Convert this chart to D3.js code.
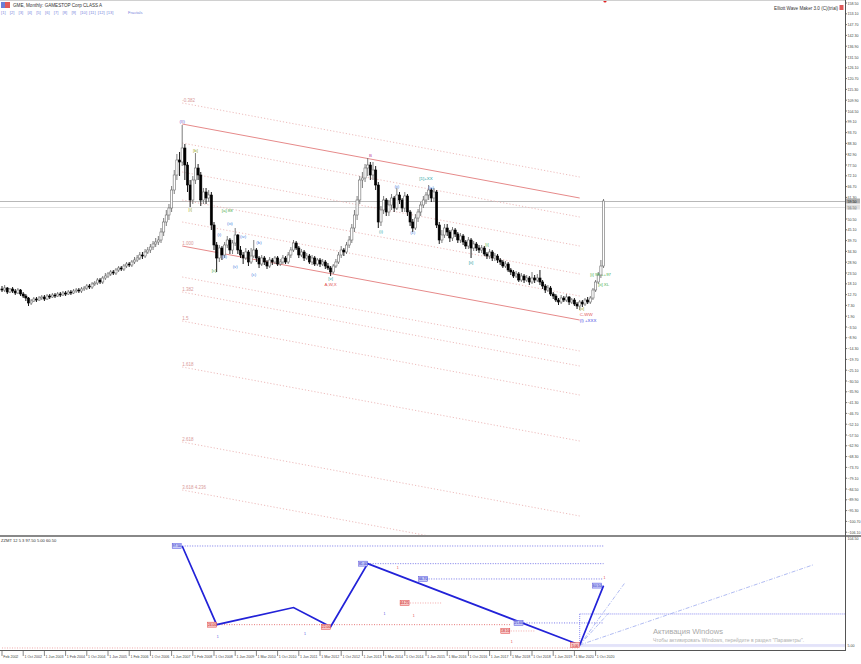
<!DOCTYPE html>
<html><head><meta charset="utf-8">
<script src="https://cdn.jsdelivr.net/npm/d3@7"></script>
<style>html,body{margin:0;padding:0;background:#fff;overflow:hidden}svg{display:block;font-family:"Liberation Sans",Arial,sans-serif}</style>
</head><body><svg id="c" width="861" height="664"></svg>
<script>
// ---------------- DATA ----------------
const firstOpen = 15.5;
const closes = [
15,16,14,15.5,14.5,13.5,15,13,12,11,
8.5,9.5,10.5,10,11,11.5,10.5,12,11.5,12.5,
12,13,12.5,13.5,13,14,13.5,14.5,15,14.5,
15.5,16,17,16.5,18,18.5,20,19,21,22,
23,24,23.5,25,26,25.5,27,28,27.5,29,
30,31,32.5,32,34,35,36.5,38,39,40,
44,49,52.5,56,65,72.5,80,79,86,77.5,
67.5,60,70,76,72.5,60,64,61,62.5,47.5,
37.5,31,36,32.5,37.5,40,35,38.5,42.5,35,
32.5,31,34,29,32,35,31,28,31,29,
27,30,29,31,28,29,31,29,32.5,35,
38.5,36,32.5,34,31,32,29,31,28,30,
28,29,27,26,24,27,29,32.5,35,34,
37.5,40,46,52.5,60,70,71,76,77.5,72.5,
75,67.5,49,55,60,54,57.5,61,56,62.5,
60,56,62,54,49,46,51,54,57.5,60,
62.5,65,61,64,47.5,40,42.5,46,44,41,
45,43,40,42,39,37,40,36,38,36,
35,36,33,32,34,31,32,30,29,27,
28,25,24,22,23,20,22,20,21,19,
21,20,21,19,17,15,16,13,12,10,
9,11,10,11.5,9,10,8,7,9,8,
10,9,11,15,19,22.5,27,59.5];
const highs = [
17,17.5,16.5,16,16.5,15.5,16,15.5,14,13,
11.5,10.5,11.5,11.5,12,12.5,12.5,13,13,13.5,
13.5,14,14,14.5,14.5,15,15,15.5,16,16,
16.5,17,18,18,19,19.5,21,21,22,23.5,
24,25,25,26,27,27,28,29,29,30,
31.5,32.5,34,34,35.5,36.5,38,39.5,41,42,
46,51,55,58,67,75,83,84,97.5,88,
79,70,72,83.5,78,74,66,66,65,64,
49,39,37.5,37,39,42,41,40,46,43,
37,34,36,35,36,40,36,32,32.5,32,
30,31.5,31,32,32,30.5,32.5,32,34,36.5,
40,39.5,37,35.5,35,33.5,33,32.5,32,31,
31,30.5,30,28.5,27,28,30.5,34,37,36,
39,42,48,55,62,72,74,78,81,79,
79,77,69,57,62,61,60,63,62,66,
64,61,64,63,55,50.5,53,55.5,59,62,
64,67.5,66,66,65,49,45,48,48,45,
46.5,46,44,43.5,43,40,41.5,41,39.5,39,
37.5,37.5,37,34,35.5,35,33.5,33,31,30,
29.5,29,26,25,24.5,24,23.5,23,22.5,22,
24,22.5,23,25,20,18,17.5,17,14,13,
11,12.5,12,13,12,11,11,9,10,10,
11,11.5,12,16,20,24,30,60.5];
const lows = [
14,14,13,13.5,13.5,12.5,13,12,11,9.5,
7,7.5,9,9,9.5,10,9.5,10,10.5,11,
11,11.5,11.5,12,12,12.5,12.5,13,13.5,13.5,
13.5,14.5,15,15.5,15.5,17,17.5,18,18,20,
21,22,22.5,22.5,24,24.5,24.5,26,26.5,26.5,
28,29,30,30.5,31,33,33.5,35,36.5,37.5,
38.5,42,47,50,54,63,70,72,77,70,
64,56.5,58,68,70,57,58,58,59,45,
35,24,29,30,31,36,33,33,37,33,
31,28,30,27,28,31,29,26,27,27.5,
25.5,26,27.5,28,27,27,28,28,28,31,
34,35,31,31.5,29.5,30,28,27.5,27,27,
26.5,27,25.5,25,22,23,26,28,31,32,
33,36,38.5,44,50,58,66,69,72,70,
70,65,46,47,53,52,52,55,54,55,
58,54,54,52,47,44,45,49,52,56,
58,60,59,59,46,38,38.5,41,42,39,
39.5,41.5,38.5,38.5,37.5,35.5,35.5,31,34.5,34.5,
33.5,33.5,32,30.5,30.5,29.5,29.5,28.5,27.5,26,
26,24,22.5,21,21,19,19,18.5,19,17.5,
18,18.5,19,17.5,15.5,13.5,14,12,10.5,9,
7.5,8,9,9,7.5,8,7,5.5,5,6.5,
7,8,8,10,14,18,21,26];

const timeLabels = ["Feb 2002","1 Oct 2002","1 Jun 2003","1 Feb 2004","1 Oct 2004","1 Jun 2005","1 Feb 2006","1 Oct 2006","1 Jun 2007","1 Feb 2008","1 Oct 2008","1 Jun 2009","1 Mar 2010","1 Oct 2010","1 Jun 2011","1 Mar 2012","1 Oct 2012","1 Jun 2013","1 Mar 2014","1 Oct 2014","1 Jun 2015","1 Mar 2016","1 Oct 2016","1 Jun 2017","1 Mar 2018","1 Oct 2018","1 Jun 2019","1 Mar 2020","1 Oct 2020"];
const timeLabelIdx = [0,8,16,24,32,40,48,56,64,72,80,88,96,104,112,120,128,136,144,152,160,168,176,184,192,200,208,216,224];

const priceTicks = [158.5,153.1,147.7,142.3,136.9,131.5,126.1,120.7,115.3,109.9,104.5,99.1,93.7,88.3,82.9,77.5,72.1,66.7,61.3,55.9,50.5,45.1,39.7,34.3,28.9,23.5,18.1,12.7,7.3,1.9,-3.5,-8.9,-14.3,-19.7,-25.1,-30.5,-35.9,-41.3,-46.7,-52.1,-57.5,-62.9,-68.3,-73.7,-79.1,-84.5,-89.9,-95.3,-100.7,-106.1];
const bidPrice = 59.5, askPrice = 56.5;

// pitchfork / channel levels (price at start bar; all lines parallel)
const pfStartIdx = 68, pfEndIdx = 218, pfDrop = 37;
const pfLevels = [108.5, 98, 88.5, 74, 60, 49, 37, 21.5, 14, -0.5, -23.5, -61, -85];
const pfSolid  = [false, true, false, false, false, false, true, false, false, false, false, false, false];
const pfLabels = ["-0.382","","","","","","1.000","","1.382","1.5","1.618","2.618","3.618 4.236"];

// Elliott wave labels: bar index, price, text, colour
const waveIdx   = [68, 73, 71, 85, 86, 82, 84, 91, 88, 97, 95, 80, 124, 124, 139, 143, 149, 155, 160, 162, 183, 177, 218, 218, 218, 222, 225];
const wavePrice = [98.5, 84, 54.5, 54, 47.5, 42, 31, 41, 26, 38, 22, 24, 20, 17, 81.5, 43.5, 66, 43, 70, 65.5, 37, 28, 5, 2, -1, 22, 17];
const waveText  = ["(II)","[b]","[i]","[a] 88","(iii)","(i)","(ii)","(iv)","(v)","(b)","(c)","[c]","[v]","A,W,X","B","(i)","(ii)","(c)","[1]+XX","(a)","[i]","[ii]","[v]","C-WW","(I) +XXX","[i] 99 ++97","[ii] XL"];
const waveCol   = ["#6a5acd","#9aa72a","#9aa72a","#4cae4c","#4a7fe0","#4a7fe0","#4a7fe0","#4a7fe0","#4a7fe0","#4a7fe0","#4a7fe0","#4cae4c","#20a0a0","#e05050","#c040a0","#20a0a0","#4a7fe0","#4a7fe0","#20a0a0","#4a7fe0","#4cae4c","#20a0a0","#9aa72a","#e05050","#4040e0","#4cae4c","#4cae4c"];

// sub-window zigzag
const zzIdx = [68, 81, 110, 124, 138, 218, 227];
const zzVal = [97.5, 24, 40, 22, 81, 5, 60.5];
const zzBoxText = ["97.50","24.00","","22.00","81.00","5.00","60.50"];
const subBlueLvl = [97.5, 81, 66.7, 25.6];
const subBlueFrom = [68, 138, 161, 197];
const subRedLvl = [24, 44.25, 18.1, 2.2];
const subRedFrom = [80, 154, 192, 0];
const subRedTo = [192, 166, 201, 218];
const subTicks = [104.5, 5.0];

// ---------------- DRAW ----------------
const svg = d3.select("#c");
const X = d3.scaleLinear().domain([0, 227]).range([2, 603.55]);
const Y = d3.scaleLinear().domain([-108, 160]).range([536, 0]);
const YS = d3.scaleLinear().domain([0.33, 105.9]).range([650, 537]);
const AX = 845;

svg.append("rect").attr("width",861).attr("height",664).attr("fill","#fff");
const defs = svg.append("defs");
defs.append("clipPath").attr("id","mainClip").append("rect").attr("x",0).attr("y",0).attr("width",AX).attr("height",535);
defs.append("clipPath").attr("id","subClip").append("rect").attr("x",0).attr("y",537).attr("width",AX).attr("height",113);

const main = svg.append("g").attr("clip-path","url(#mainClip)");

// price lines
main.append("line").attr("x1",0).attr("x2",AX).attr("y1",Y(bidPrice)+0.5).attr("y2",Y(bidPrice)+0.5).attr("stroke","#b8b8b8").attr("stroke-width",1);
main.append("line").attr("x1",0).attr("x2",AX).attr("y1",Y(askPrice)+0.5).attr("y2",Y(askPrice)+0.5).attr("stroke","#dedede").attr("stroke-width",1);

// pitchfork
pfLevels.forEach((lv,k)=>{
  const l = main.append("line")
    .attr("x1",X(pfStartIdx)).attr("y1",Y(lv))
    .attr("x2",X(pfEndIdx)).attr("y2",Y(lv-pfDrop))
    .attr("stroke", pfSolid[k] ? "#e68a8a" : "#ebb4b4")
    .attr("stroke-width", pfSolid[k] ? 1 : 0.9);
  if(!pfSolid[k]) l.attr("stroke-dasharray","1.2,2");
  if(pfLabels[k]) main.append("text").attr("x",X(pfStartIdx)).attr("y",Y(lv)-1.5)
    .attr("font-size",4.5).attr("fill","#d89a9a").text(pfLabels[k]);
});

// candles
const bars = closes.map((c,i)=>{
  const o = i===0 ? firstOpen : closes[i-1];
  return {i, o, c, h: Math.max(highs[i], o, c), l: Math.min(lows[i], o, c)};
});
const cg = main.append("g");
cg.selectAll("line.w").data(bars).join("line")
  .attr("x1",d=>X(d.i)).attr("x2",d=>X(d.i))
  .attr("y1",d=>Y(d.h)).attr("y2",d=>Y(d.l))
  .attr("stroke",d=>d.c>=d.o?"#6e6e6e":"#000").attr("stroke-width",0.9);
cg.selectAll("rect.b").data(bars).join("rect")
  .attr("x",d=>X(d.i)-1.1).attr("width",2.2)
  .attr("y",d=>Y(Math.max(d.o,d.c)))
  .attr("height",d=>Math.max(1, Math.abs(Y(d.o)-Y(d.c))))
  .attr("fill",d=>d.c>=d.o?"#fff":"#000")
  .attr("stroke",d=>d.c>=d.o?"#6e6e6e":"#000").attr("stroke-width",0.6);

// wave labels
waveText.forEach((t,k)=>{
  main.append("text").attr("x",X(waveIdx[k])).attr("y",Y(wavePrice[k]))
    .attr("text-anchor", k>=22 ? "start" : "middle")
    .attr("font-size",4.4).attr("fill",waveCol[k]).text(t);
});

// red marker at top
svg.append("circle").attr("cx",605).attr("cy",1).attr("r",1.6).attr("fill","#e02020");

// frame lines
svg.append("line").attr("x1",0).attr("x2",AX).attr("y1",0.5).attr("y2",0.5).attr("stroke","#d0d0d0");
svg.append("line").attr("x1",0).attr("x2",861).attr("y1",536).attr("y2",536).attr("stroke","#888").attr("stroke-width",2);
svg.append("line").attr("x1",AX+0.5).attr("x2",AX+0.5).attr("y1",0).attr("y2",650).attr("stroke","#555");

// price axis
const pax = svg.append("g");
priceTicks.forEach(p=>{
  const y = Y(p);
  pax.append("line").attr("x1",AX).attr("x2",AX+2).attr("y1",y).attr("y2",y).attr("stroke","#555").attr("stroke-width",0.8);
  pax.append("text").attr("x",AX+2.5).attr("y",y+1.5).attr("font-size",3.6).attr("fill","#444").text(d3.format(".2f")(p));
});
pax.append("rect").attr("x",AX+1).attr("y",Y(bidPrice)-2.5).attr("width",14).attr("height",5).attr("fill","#b0b0b0");
pax.append("text").attr("x",AX+2.5).attr("y",Y(bidPrice)+1.5).attr("font-size",3.6).attr("fill","#111").text(d3.format(".2f")(bidPrice));
pax.append("rect").attr("x",AX+1).attr("y",Y(askPrice)-2.5).attr("width",14).attr("height",5).attr("fill","#e2e2e2");
pax.append("text").attr("x",AX+2.5).attr("y",Y(askPrice)+1.5).attr("font-size",3.6).attr("fill","#666").text(d3.format(".2f")(askPrice));

// header
svg.append("rect").attr("x",1).attr("y",2).attr("width",4).attr("height",6).attr("fill","#6a7fd8");
svg.append("rect").attr("x",5).attr("y",2).attr("width",5).attr("height",6).attr("fill","#e05a5a");
svg.append("text").attr("x",13).attr("y",7).attr("font-size",4.6).attr("fill","#333").text("GME, Monthly:  GAMESTOP Corp CLASS A");
const hdr2 = ["[1]","[2]","[3]","[4]","[5]","[6]","[7]","[8]","[9]","[10]","[11]","[12]","[13]"];
hdr2.forEach((t,k)=>svg.append("text").attr("x",1+k*8.8).attr("y",14).attr("font-size",4.1).attr("fill","#7a86dc").text(t));
svg.append("text").attr("x",128).attr("y",14).attr("font-size",4.1).attr("fill","#7a86dc").text("Fractals");
svg.append("text").attr("x",838).attr("y",10).attr("text-anchor","end").attr("font-size",4.6).attr("fill","#333").text("Elliott Wave Maker 3.0 (C)(trial)");
svg.append("rect").attr("x",839.5).attr("y",5).attr("width",4).attr("height",5).attr("fill","#e05a5a");

// ---------------- SUB WINDOW ----------------
svg.append("text").attr("x",1).attr("y",542).attr("font-size",4.1).attr("fill","#333").text("ZZMT 12 5 3  97.50  5.00  60.50");
const sub = svg.append("g").attr("clip-path","url(#subClip)");
subRedLvl.forEach((v,k)=>{
  sub.append("line").attr("x1",X(subRedFrom[k])).attr("x2",X(subRedTo[k]))
    .attr("y1",YS(v)).attr("y2",YS(v)).attr("stroke", k===0?"#e46a6a":"#f0a0a0")
    .attr("stroke-width",0.9).attr("stroke-dasharray","1,1.5");
});
subBlueLvl.forEach((v,k)=>{
  sub.append("line").attr("x1",X(subBlueFrom[k])).attr("x2",X(227))
    .attr("y1",YS(v)).attr("y2",YS(v)).attr("stroke","#6a6ae6")
    .attr("stroke-width",0.9).attr("stroke-dasharray","1,1.5");
});
const lowX = X(218), lowY = YS(5);
sub.append("line").attr("x1",lowX).attr("x2",AX).attr("y1",YS(34)).attr("y2",YS(34)).attr("stroke","#7070f0").attr("stroke-width",0.8).attr("stroke-dasharray","1,1");
sub.append("line").attr("x1",lowX).attr("x2",lowX).attr("y1",YS(34)).attr("y2",lowY).attr("stroke","#7070f0").attr("stroke-width",0.8).attr("stroke-dasharray","1,1");
sub.append("line").attr("x1",lowX).attr("x2",AX).attr("y1",lowY).attr("y2",lowY).attr("stroke","#c8c8f4").attr("stroke-width",1);
sub.append("line").attr("x1",lowX).attr("x2",AX).attr("y1",lowY+1.6).attr("y2",lowY+1.6).attr("stroke","#dcdcf8").attr("stroke-width",0.8);
const fanIdx = [235, 229, 306];
const fanVal = [62.9, 35, 79.8];
fanIdx.forEach((fi,k)=>{
  sub.append("line").attr("x1",lowX).attr("y1",lowY).attr("x2",X(fi)).attr("y2",YS(fanVal[k]))
    .attr("stroke","#a8b4f0").attr("stroke-width",0.9).attr("stroke-dasharray","4,1.5,1,1.5");
});
const zzLine = d3.line().x(d=>X(d[0])).y(d=>YS(d[1]));
sub.append("path").attr("d",zzLine(zzIdx.map((x,k)=>[x,zzVal[k]]))).attr("fill","none").attr("stroke","#2222d8").attr("stroke-width",1.7);
function box(x, y, txt, blue){
  sub.append("rect").attr("x",x-10).attr("y",y-2.5).attr("width",9).attr("height",5)
    .attr("fill", blue?"#c8ccf8":"#f8c8c8").attr("stroke", blue?"#5050e0":"#e04040").attr("stroke-width",0.5);
  sub.append("text").attr("x",x-5.5).attr("y",y+1.5).attr("text-anchor","middle").attr("font-size",3.4)
    .attr("fill", blue?"#2020c0":"#c01010").text(txt);
}
zzIdx.forEach((zi,k)=>{ if(zzBoxText[k]) box(X(zi)+(k===0?0:(k===6?-1:1)), YS(zzVal[k]), zzBoxText[k], k===0||k===4||k===6); });
box(X(161), YS(66.7), "66.70", true);
box(X(197), YS(25.6), "25.60", true);
box(X(154), YS(44.25), "44.25", false);
box(X(192), YS(18.1), "18.10", false);
const markIdx = [81, 114, 144, 149, 155, 192, 227];
const markVal = [12, 14, 33, 76, 31, 7, 67];
const markCol = ["#5050e0","#5050e0","#5050e0","#e04040","#e04040","#e04040","#e04040"];
markIdx.forEach((mi,k)=>sub.append("text").attr("x",X(mi)).attr("y",YS(markVal[k])).attr("font-size",3.5).attr("fill",markCol[k]).text("1"));

svg.append("text").attr("x",653).attr("y",634).attr("font-size",7.6).attr("fill","#a9a9a9").text("Активация Windows");
svg.append("text").attr("x",653).attr("y",641.5).attr("font-size",5).attr("fill","#b0b0b0").text("Чтобы активировать Windows, перейдите в раздел \"Параметры\".");

subTicks.forEach(v=>{
  svg.append("text").attr("x",AX+2.5).attr("y",YS(v)+1.5).attr("font-size",3.6).attr("fill","#444").text(d3.format(".2f")(v));
});

// time axis
svg.append("line").attr("x1",0).attr("x2",AX+1).attr("y1",650.5).attr("y2",650.5).attr("stroke","#555");
timeLabelIdx.forEach((ti,k)=>{
  const x = X(ti);
  svg.append("line").attr("x1",x).attr("x2",x).attr("y1",651).attr("y2",656).attr("stroke","#555").attr("stroke-width",0.7);
  svg.append("text").attr("x",x+1.2).attr("y",658).attr("font-size",3.6).attr("fill","#444").text(timeLabels[k]);
});
</script></body></html>
